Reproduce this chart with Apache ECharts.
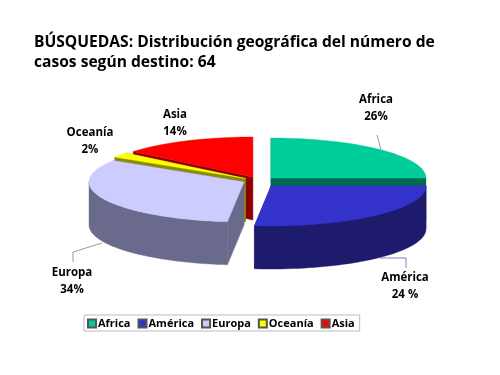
<!DOCTYPE html>
<html><head><meta charset="utf-8">
<style>html,body{margin:0;padding:0;background:#fff}#c{width:500px;height:375px}</style>
<script src="https://cdn.jsdelivr.net/npm/echarts@6/dist/echarts.min.js"></script>
</head><body><div id="c"></div>
<script>
const titleText = 'BÚSQUEDAS: Distribución geográfica del número de\ncasos según destino: 64';
const categories = ['Africa', 'América', 'Europa', 'Oceanía', 'Asia'];
// Percentages as printed on the chart's labels.
const printedLabels = ['26%', '24 %', '34%', '2%', '14%'];
const shares = [25, 26.7, 32.3, 2, 14];
const topColors = ['#00CC99', '#3333CC', '#CCCCFF', '#FFFF00', '#FF0000'];
const sideColors = ['#006B50', '#1E1A6C', '#6A6A8C', '#8C8C00', '#8C0000'];
const explodedCenters = [[271, 178], [271, 186], [244, 182], [245.5, 178.5], [252.7, 177]];
const labelCenters = [[376, 108], [405, 286], [72, 281], [90, 141], [175, 123]];
const leaderLines = [
  [[377, 135], [381, 150]],
  [[406, 268], [406, 258], [380, 258]],
  [[73, 262], [73, 252], [102, 243]]
];
const leaderColors = ['#999', '#8080c0', '#999'];
const drawOrder = [4, 3, 2, 0, 1];
const RX = 155, RY = 40, DEPTH = 43;
const fontFamily = '"Open Sans", "DejaVu Sans", sans-serif';

const total = shares.reduce((a, b) => a + b, 0);
function rimPoint(c, deg) {
  const t = deg * Math.PI / 180;
  return [c[0] + RX * Math.sin(t), c[1] - RY * Math.cos(t)];
}
function down(p) { return [p[0], p[1] + DEPTH]; }
function poly(points, fill, stroke) {
  return { type: 'polygon', shape: { points }, style: { fill, stroke: stroke || fill, lineWidth: 0.4 } };
}
function renderSlice(i, value) {
  const before = shares.slice(0, i).reduce((a, b) => a + b, 0);
  const a0 = before / total * 360, a1 = a0 + value / total * 360;
  const c = explodedCenters[i], children = [];
  const p0 = rimPoint(c, a0), p1 = rimPoint(c, a1);
  // cut faces
  children.push(poly([c, p0, down(p0), down(c)], sideColors[i]));
  children.push(poly([c, p1, down(p1), down(c)], sideColors[i]));
  // outer wall, front half only
  const f0 = Math.max(a0, 90), f1 = Math.min(a1, 270);
  if (f1 > f0) {
    const upper = [], lower = [];
    for (let a = f0; ; a = Math.min(a + 2, f1)) {
      const p = rimPoint(c, a);
      upper.push(p); lower.unshift(down(p));
      if (a >= f1) break;
    }
    children.push(poly(upper.concat(lower), sideColors[i]));
  }
  // top face
  const top = [c];
  for (let a = a0; ; a = Math.min(a + 2, a1)) {
    top.push(rimPoint(c, a));
    if (a >= a1) break;
  }
  children.push(poly(top, topColors[i]));
  return { type: 'group', children };
}
const series = categories.map((name, i) => ({
  type: 'custom', name, coordinateSystem: 'none', silent: true, animation: false,
  z: 2 + drawOrder.indexOf(i),
  itemStyle: { color: topColors[i], borderColor: '#555', borderWidth: 0.5 },
  data: [shares[i]],
  renderItem: (params, api) => renderSlice(i, api.value(0))
}));
const graphics = [];
categories.forEach((name, i) => {
  graphics.push({
    type: 'text', x: labelCenters[i][0], y: labelCenters[i][1], silent: true,
    style: { text: name + '\n' + printedLabels[i], align: 'center', verticalAlign: 'middle',
      font: '700 11.5px ' + fontFamily, lineHeight: 16.5, fill: '#000' }
  });
});
leaderLines.forEach((pts, i) => graphics.push({
  type: 'polyline', shape: { points: pts }, silent: true,
  style: { stroke: leaderColors[i], lineWidth: 1, fill: null }
}));
const chart = echarts.init(document.getElementById('c'), null, { renderer: 'canvas' });
chart.setOption({
  animation: false,
  backgroundColor: '#fff',
  title: { text: titleText, left: 29, top: 28,
    textStyle: { fontFamily, fontSize: 15.6, fontWeight: 'bold', color: '#000', lineHeight: 20 } },
  legend: {
    data: categories, left: 84, top: 315, orient: 'horizontal', icon: 'rect',
    itemWidth: 8, itemHeight: 8, itemGap: 7, padding: [3, 5, 2, 3],
    borderColor: '#bbb', borderWidth: 1, selectedMode: false,
    textStyle: { fontFamily, fontSize: 11, fontWeight: 700, color: '#000', padding: [0, 0, 0, -3] }
  },
  graphic: graphics,
  series
});
</script></body></html>
